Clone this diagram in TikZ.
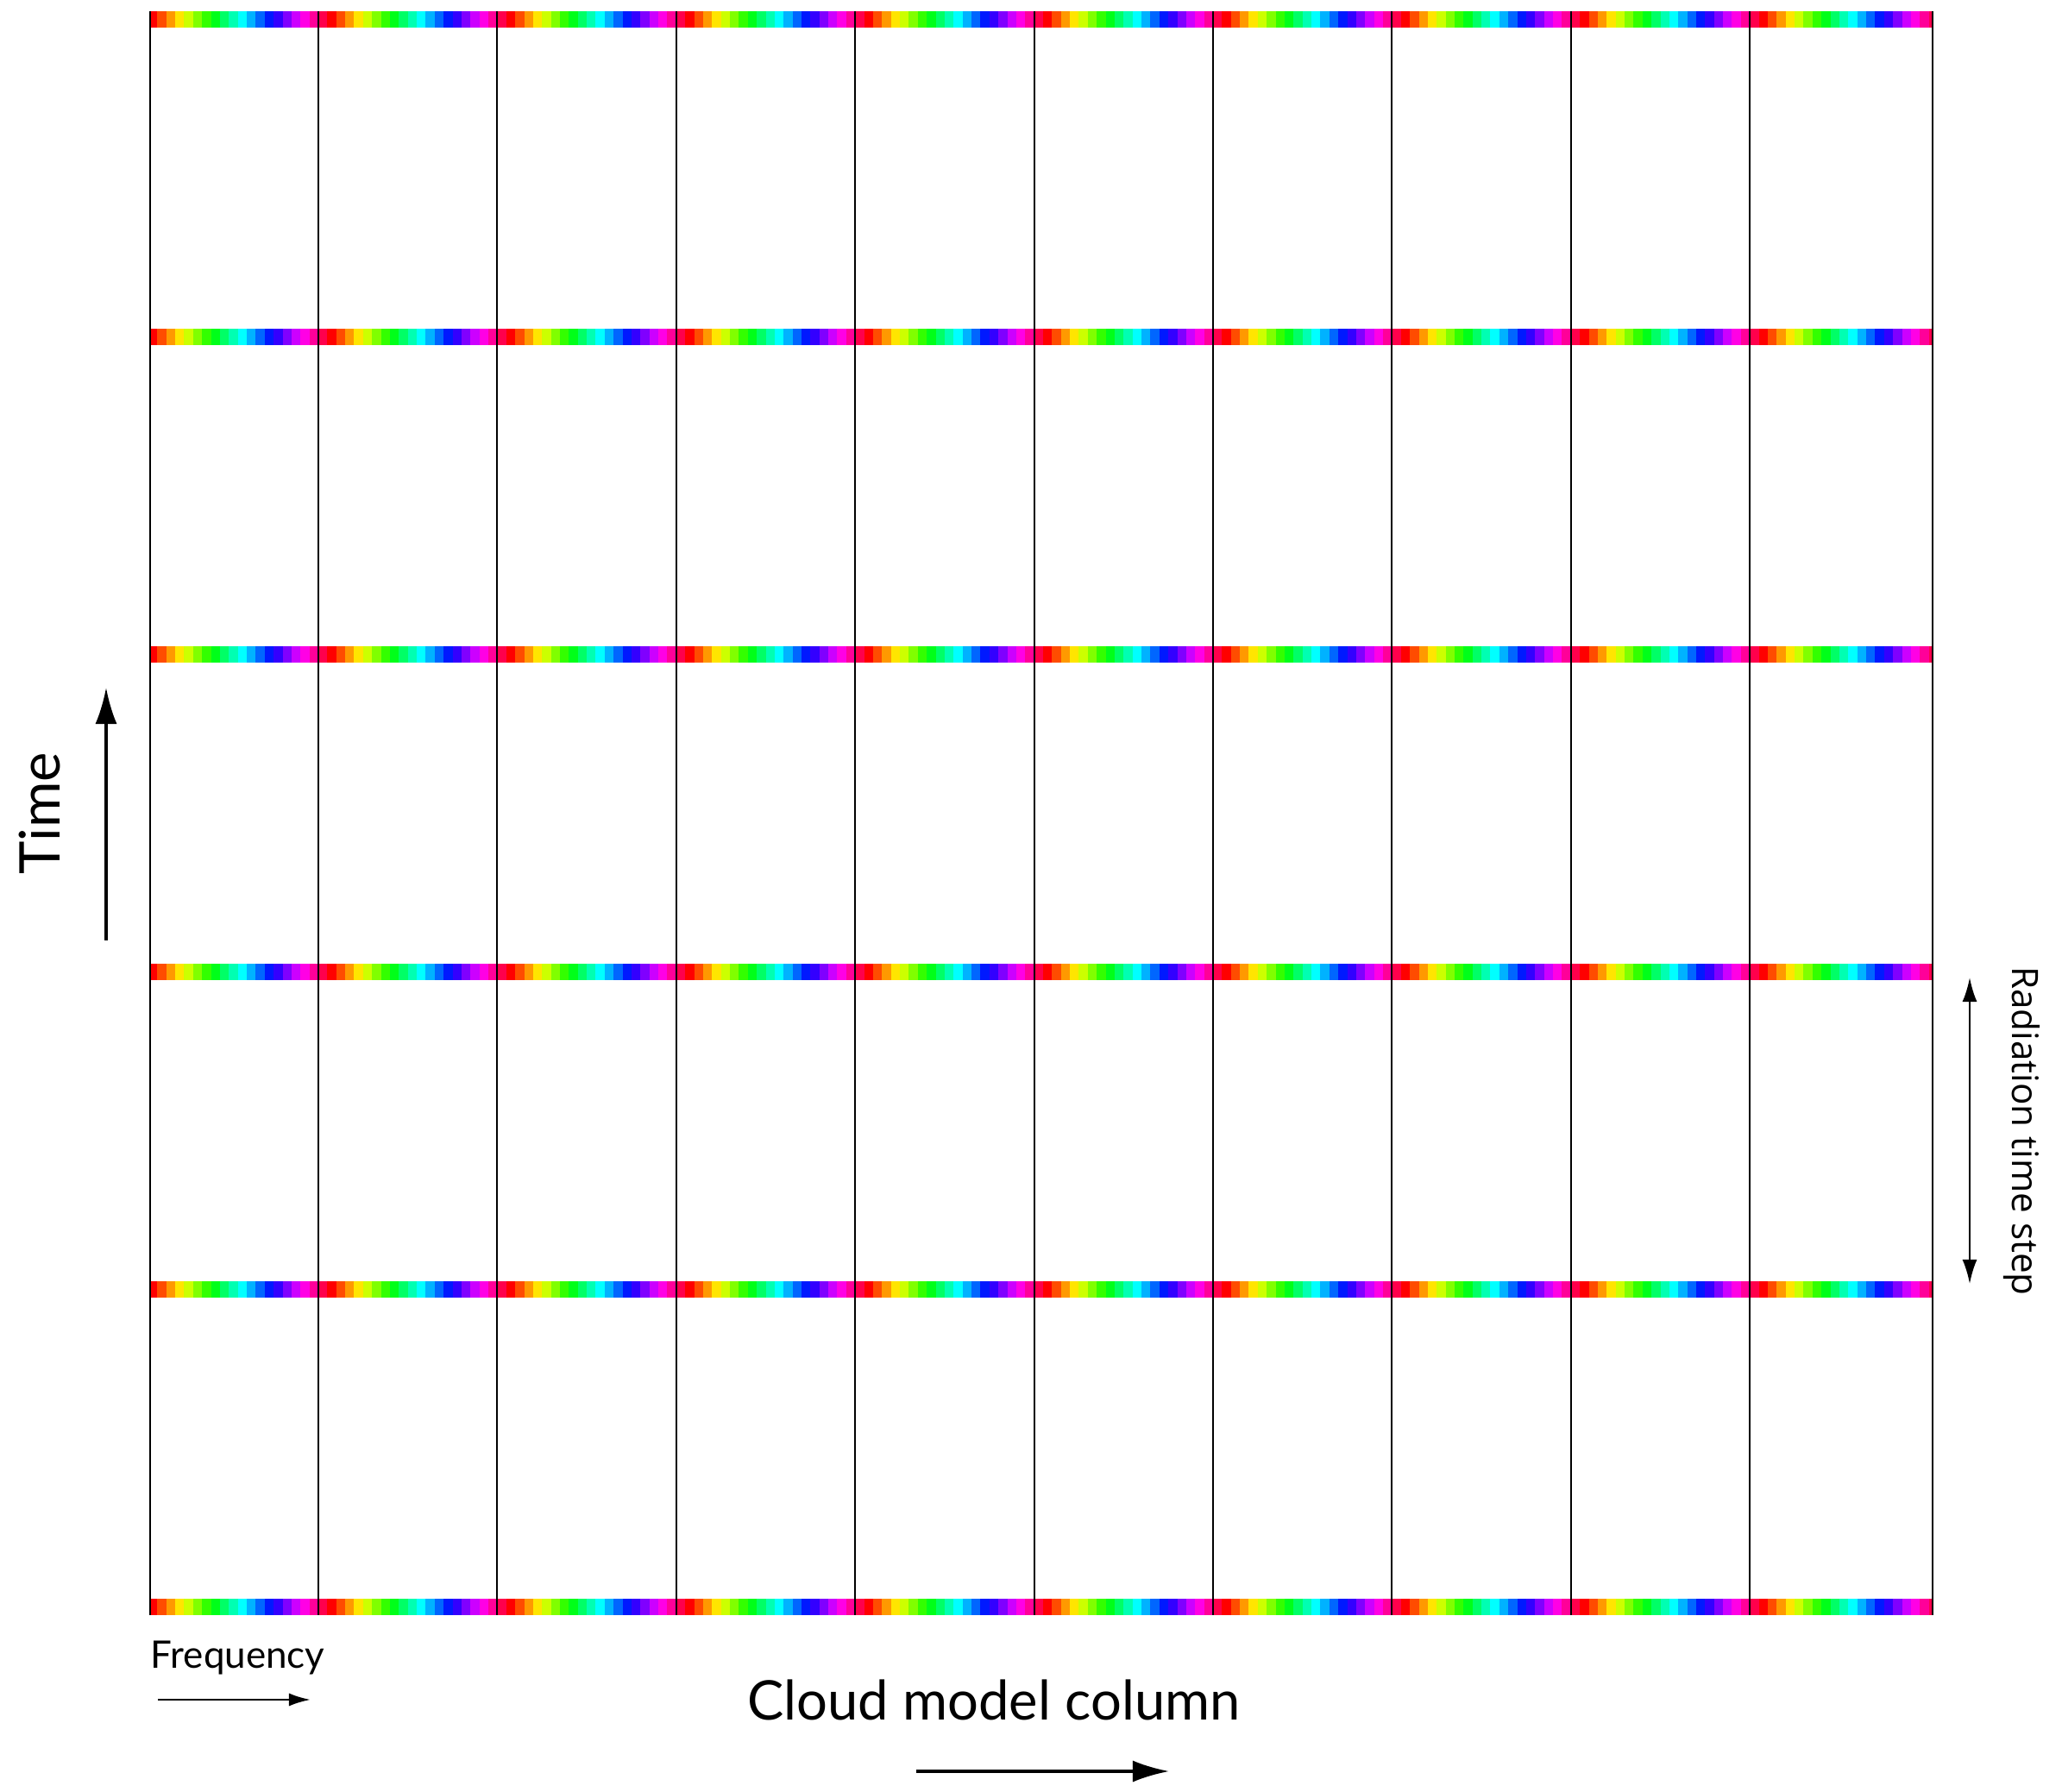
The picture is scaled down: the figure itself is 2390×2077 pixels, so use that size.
\documentclass[tikz,border=0pt]{standalone}
\usepackage{fontspec}
\setmainfont{Lato}
\newfontfamily\radfont{Open Sans}
\usetikzlibrary{arrows.meta}

\tikzset{
  gridline/.style={black,line width=0.6pt},
  bigarrow/.style={line width=0.95pt,-{Latex[length=0.42cm,width=0.25cm]}},
  smallarrow/.style={line width=0.75pt,-{Latex[length=0.25cm,width=0.15cm]}},
  steparrow/.style={line width=0.75pt,{Latex[length=0.28cm,width=0.17cm]}-{Latex[length=0.28cm,width=0.17cm]}},
}

\begin{document}
\begin{tikzpicture}[x=0.01cm,y=-0.01cm]
\useasboundingbox (0,0) rectangle (2390,2077);

% spectral strips, one hue cycle per column
\begin{scope}
\clip (174,13) rectangle (2240,1872);
\foreach \j in {0,...,210}{
  \pgfmathtruncatemacro\hue{mod(342+18*mod(\j,20),360)}
  \definecolor{cellcol}{Hsb}{\hue,1,1}
  \pgfmathsetmacro\xa{161.6+10.37*\j}
  \foreach \r in {0,...,5}
    \fill[cellcol] (\xa,13+368*\r) rectangle +(10.7,19);
}
\end{scope}

% column boundaries
\draw[gridline] (174,13) -- (174,1872);
\foreach \i in {1,...,9}
  \draw[gridline] ({369+207.4*(\i-1)},13) -- ({369+207.4*(\i-1)},1872);
\draw[gridline] (2240,13) -- (2240,1872);

% axes
\coordinate (freqA) at (183,1970);
\coordinate (freqB) at (360,1970);
\coordinate (colA) at (1062,2053);
\coordinate (colB) at (1355,2053);
\coordinate (timeA) at (123,1090);
\coordinate (timeB) at (123,797);
\coordinate (radA) at (2283,1488);
\coordinate (radB) at (2283,1133);

\draw[smallarrow] (freqA) -- (freqB);
\draw[bigarrow] (colA) -- (colB);
\draw[bigarrow] (timeA) -- (timeB);
\draw[steparrow] (radA) -- (radB);

% labels
\node[anchor=base west,inner sep=0pt,font=\fontsize{12.5}{14}\selectfont] (freq) at (174,1933) {Frequency};
\node[anchor=base,inner sep=0pt,font=\fontsize{18}{21}\selectfont] (col) at (1152,1993) {Cloud model column};
\node[anchor=base,inner sep=0pt,rotate=90,font=\fontsize{18.5}{21}\selectfont] (time) at (70,943) {Time};
\node[anchor=base,inner sep=0pt,rotate=-90,font=\radfont\fontsize{12}{14}\selectfont] (rad) at (2332,1311) {Radiation time step};
\end{tikzpicture}
\end{document}
